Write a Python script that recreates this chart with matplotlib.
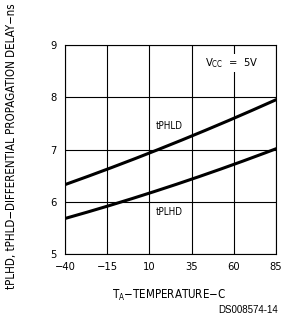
import matplotlib
matplotlib.use("Agg")
import matplotlib.pyplot as plt
import numpy as np

temps = [-40, -15, 10, 35, 60, 85]
tphld = [6.33, 6.62, 6.93, 7.26, 7.60, 7.95]
tplhd = [5.67, 5.93, 6.17, 6.42, 6.71, 7.02]
xticks = [-40, -15, 10, 35, 60, 85]
yticks = [5, 6, 7, 8, 9]

plt.rcParams['font.family'] = ['DejaVu Sans']
plt.rcParams['font.stretch'] = 'condensed'

W, H = 285, 325
fig = plt.figure(figsize=(W/100, H/100), dpi=100)
ax = fig.add_axes([65/W, 1-254/H, (276-65)/W, (254-45)/H])

xs = np.linspace(-40, 85, 200)
def smooth(vals):
    c = np.polyfit(temps, vals, 2)
    return np.polyval(c, xs)

ax.plot(xs, smooth(tphld), color='black', lw=2.2, zorder=3)
ax.plot(xs, smooth(tplhd), color='black', lw=2.2, zorder=3)

ax.set_xlim(-40, 85)
ax.set_ylim(5, 9)
ax.set_xticks(xticks)
ax.set_yticks(yticks)
ax.set_xticklabels([str(t).replace('-', '\u2212') for t in xticks], fontsize=8)
ax.set_yticklabels([str(t) for t in yticks], fontsize=8)
ax.tick_params(length=0, pad=6)
ax.grid(True, color='black', lw=0.8, zorder=1)
for s in ax.spines.values():
    s.set_linewidth(0.8)

ax.text(13.5, 7.45, 'tPHLD', fontsize=7, ha='left', va='center', zorder=4)
ax.text(13.5, 5.8, 'tPLHD', fontsize=7, ha='left', va='center', zorder=4)
ax.text(58.5, 8.65, r'V$_{\rm CC}$  =  5V', fontsize=8, ha='center', va='center', zorder=4,
        bbox=dict(facecolor='white', edgecolor='none', pad=1.5))

fig.text(12/W, 1-146/H, 'tPLHD, tPHLD\u2212DIFFERENTIAL PROPAGATION DELAY\u2212ns',
         rotation=90, fontsize=8.3, ha='center', va='center')
fig.text(168.5/W, 1-295/H, r'T$_{\rm A}$$-$TEMPERATURE$-$C', fontsize=8.3, ha='center', va='center')
fig.text(278/W, 1-310/H, 'DS008574-14', fontsize=7, ha='right', va='center',
         family=['Liberation Sans', 'DejaVu Sans'], stretch='normal')

fig.savefig('out.png', dpi=100)
